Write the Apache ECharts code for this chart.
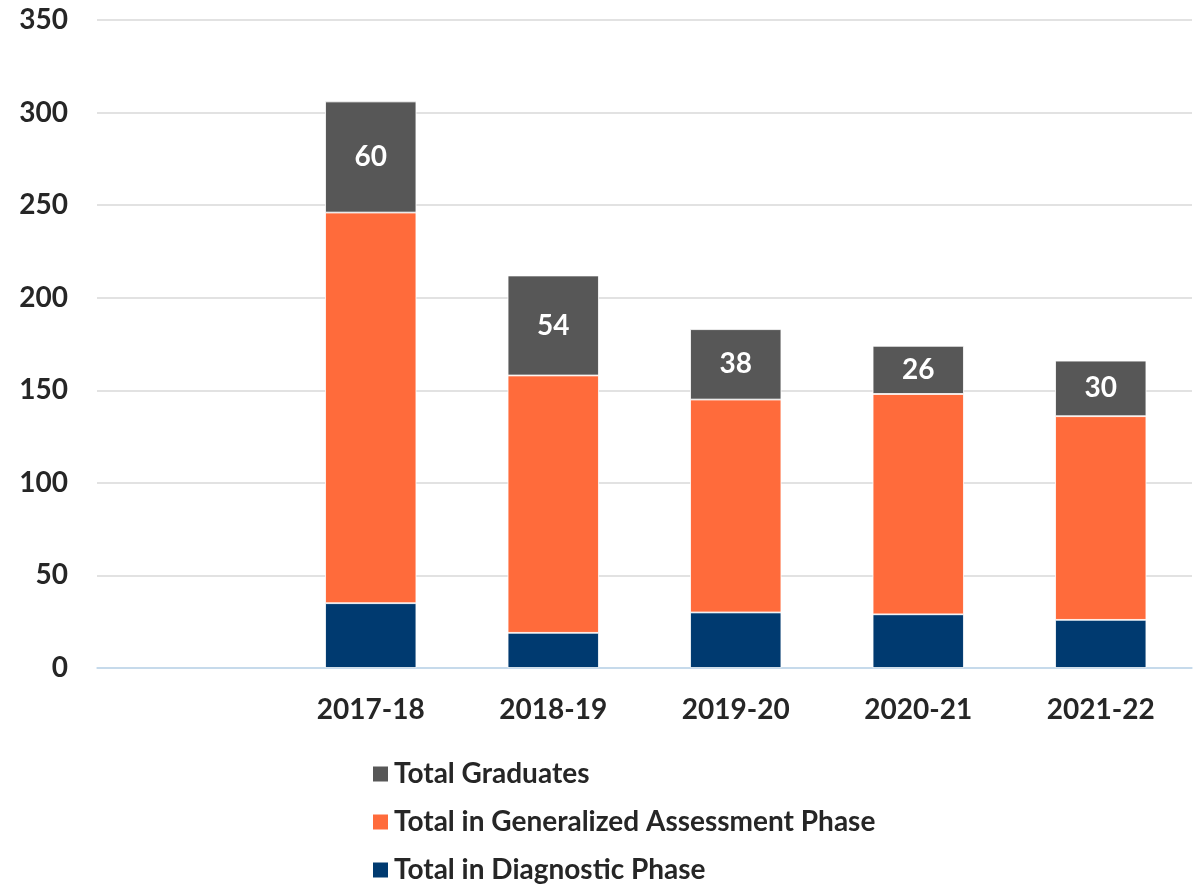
<!DOCTYPE html>
<html>
<head>
<meta charset="utf-8">
<script src="https://cdn.jsdelivr.net/npm/echarts@6/dist/echarts.min.js"></script>
<style>
  html, body { margin: 0; padding: 0; background: #fff; }
  #chart { width: 1199px; height: 886px; }
</style>
</head>
<body>
<div id="chart"></div>
<script>
// first slot is left blank in the original chart
const years = ['', '2017-18', '2018-19', '2019-20', '2020-21', '2021-22']
const diagnostic = [null, 35, 19, 30, 29, 26]
const generalized = [null, 211, 139, 115, 119, 110]
const graduates = [null, 60, 54, 38, 26, 30]
const yTicks = [0, 50, 100, 150, 200, 250, 300, 350]

const font = 'Lato, "Noto Sans", sans-serif'
const textColor = '#262626'

var myChart = echarts.init(document.getElementById('chart'))
myChart.setOption({
  backgroundColor: '#ffffff',
  animation: false,
  textStyle: { fontFamily: font },
  grid: { left: 97, right: 7, top: 20, bottom: 218 },
  legend: {
    orient: 'vertical',
    left: 366,
    top: 755,
    height: 200,
    itemWidth: 17,
    itemHeight: 17,
    itemGap: 20,
    icon: 'rect',
    data: ['Total Graduates', 'Total in Generalized Assessment Phase', 'Total in Diagnostic Phase'],
    textStyle: { fontSize: 28, fontWeight: 'bold', color: textColor, fontFamily: font }
  },
  xAxis: {
    type: 'category',
    data: years,
    axisLine: { lineStyle: { color: '#bdd7ee', width: 1.5 } },
    axisTick: { show: false },
    axisLabel: { fontSize: 28, fontWeight: 'bold', color: textColor, margin: 28, fontFamily: font }
  },
  yAxis: {
    type: 'value',
    min: yTicks[0],
    max: yTicks[yTicks.length - 1],
    interval: 50,
    axisLine: { show: false },
    axisTick: { show: false },
    splitLine: { lineStyle: { color: '#d9d9d9', width: 1.5 } },
    axisLabel: { fontSize: 28, fontWeight: 'bold', color: textColor, margin: 29, fontFamily: font }
  },
  series: [
    {
      name: 'Total in Diagnostic Phase',
      type: 'bar',
      stack: 'total',
      barWidth: '50%',
      data: diagnostic,
      itemStyle: { color: '#003a70', borderColor: '#ffffff', borderWidth: 0.8 }
    },
    {
      name: 'Total in Generalized Assessment Phase',
      type: 'bar',
      stack: 'total',
      data: generalized,
      itemStyle: { color: '#ff6b3b', borderColor: '#ffffff', borderWidth: 0.8 }
    },
    {
      name: 'Total Graduates',
      type: 'bar',
      stack: 'total',
      data: graduates,
      itemStyle: { color: '#575757', borderColor: '#ffffff', borderWidth: 0.8 },
      label: {
        show: true,
        position: 'inside',
        color: '#ffffff',
        fontSize: 28,
        fontWeight: 'bold',
        fontFamily: font
      }
    }
  ]
})
</script>
</body>
</html>
